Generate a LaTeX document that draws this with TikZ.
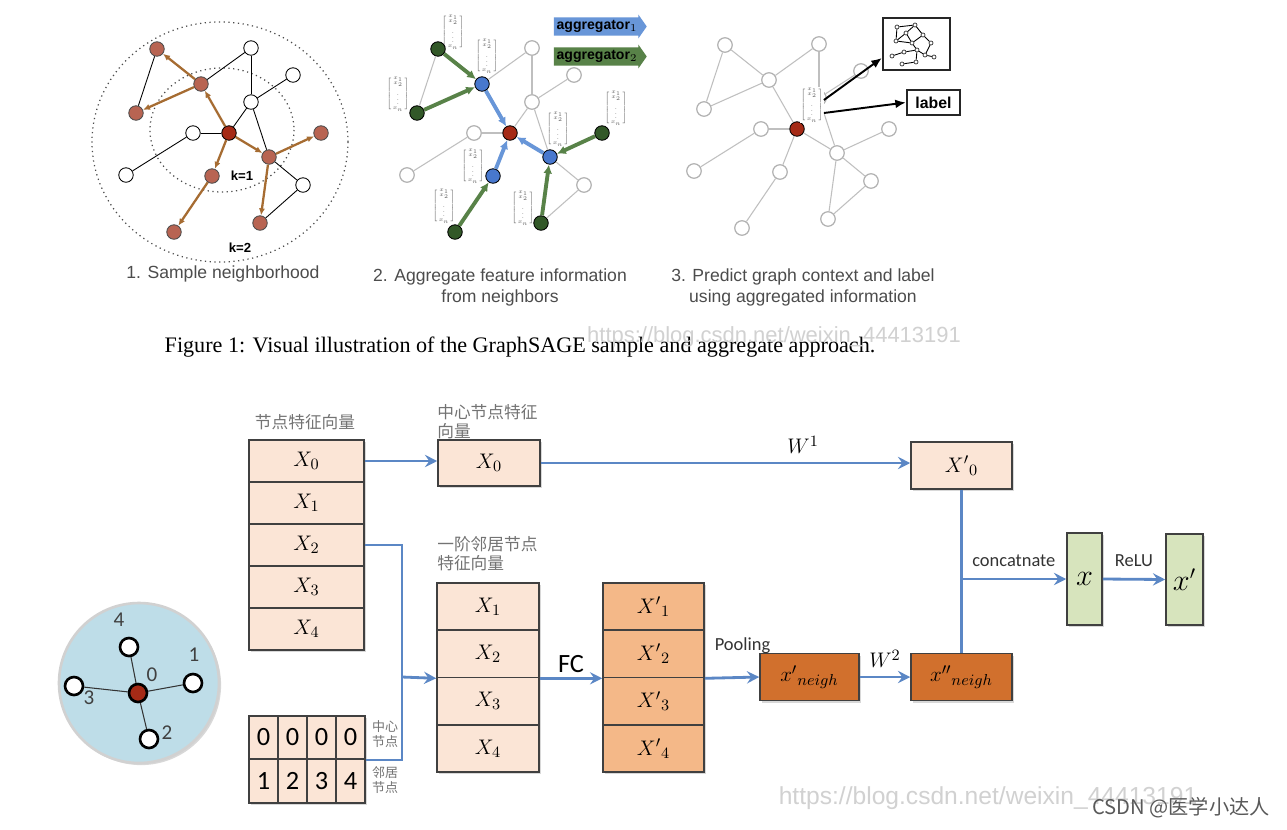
\documentclass[tikz,border=0pt]{standalone}
\usepackage{amsmath}
\usepackage{fontspec}
\setmainfont{Liberation Sans}
\newfontfamily\capfont{Liberation Serif}
\newfontfamily\calfont{Carlito}
\newfontfamily\cjk{Noto Sans CJK SC}
\usetikzlibrary{arrows.meta,shapes.arrows,shadows}

\definecolor{nodebrown}{RGB}{184,100,82}
\definecolor{edgebrown}{RGB}{166,108,50}
\definecolor{centerred}{RGB}{165,42,22}
\definecolor{aggblue}{RGB}{104,150,216}
\definecolor{agggreen}{RGB}{88,130,72}
\definecolor{nodegreen}{RGB}{50,88,40}
\definecolor{nodeblue}{RGB}{72,120,206}
\definecolor{linkblue}{RGB}{91,135,197}
\definecolor{peach}{RGB}{251,229,214}
\definecolor{peachdark}{RGB}{244,184,136}
\definecolor{rust}{RGB}{209,112,45}
\definecolor{sage}{RGB}{215,228,189}
\definecolor{skyblue}{RGB}{190,221,232}

% graph used in the three top panels (frame of panel 1)
\newcommand{\graphpos}{A/157/49, B/251/48, C/201/84, D/293/75, E/136/113, F/251/102, G/193/133, H/229/133, I/321/133, J/269/157, K/126/175, L/212/176, M/303/185, N/174/232, O/260/223}
\newcommand{\plainedges}{A/E, C/B, B/F, F/D, F/H, F/J, G/H, G/K, J/M, M/O}
\newcommand{\sampleedges}{H/C, C/A, C/E, H/J, J/I, J/O, H/L, L/N}
\newcommand{\featvec}{\scalebox{0.66}{$\left[\begin{smallmatrix}x_1\\x_2\\\vdots\\x_n\end{smallmatrix}\right]$}}

\begin{document}
\begin{tikzpicture}[x=0.02cm, y=-0.02cm, >=Latex,
  gnode/.style={circle, draw=black, line width=0.5pt, fill=white, minimum size=0.29cm, inner sep=0pt},
  brownnode/.style={gnode, fill=nodebrown, draw=black!70},
  rednode/.style={gnode, fill=centerred},
  greennode/.style={gnode, fill=nodegreen},
  bluenode/.style={gnode, fill=nodeblue},
  fadenode/.style={gnode, draw=black!30, line width=0.7pt},
  plainedge/.style={draw=black, line width=0.5pt},
  fadeedge/.style={draw=black!25, line width=0.6pt},
  sampleedge/.style={draw=edgebrown, line width=1.3pt, -{Latex[length=4pt,width=3.5pt]}},
  greenedge/.style={draw=agggreen, line width=2.2pt, -{Latex[length=5pt,width=5pt]}},
  blueedge/.style={draw=aggblue, line width=2.2pt, -{Latex[length=5pt,width=5pt]}},
  vecglyph/.style={fill=white, inner sep=0.3pt, text=black!65, font=\tiny},
  panellabel/.style={font=\fontsize{10}{12}\selectfont, text=black!70, align=center},
  klabel/.style={font=\bfseries\fontsize{7.5}{9}\selectfont},
  aggarrow/.style={single arrow, single arrow head extend=1.5pt, single arrow tip angle=110,
    minimum height=1.86cm, inner xsep=1pt, inner ysep=1.6pt, font=\bfseries\fontsize{8}{9}\selectfont},
  tinynode/.style={circle, draw=black!80, fill=white, line width=0.4pt, minimum size=0.08cm, inner sep=0pt},
  boxshadow/.style={drop shadow={shadow xshift=1.2pt, shadow yshift=-1.2pt, opacity=0.3}},
  cell/.style={draw=black!75, line width=0.9pt, inner sep=0pt, font=\fontsize{13}{15}\selectfont, boxshadow},
  featcell/.style={cell, fill=peach, minimum width=2.3cm, minimum height=0.84cm},
  idxcell/.style={cell, fill=peach, minimum width=0.58cm, minimum height=0.87cm, font=\calfont\fontsize{15}{17}\selectfont},
  ringnode/.style={circle, draw=black, line width=1.5pt, fill=white, minimum size=0.36cm, inner sep=0pt},
  ringlabel/.style={font=\calfont\fontsize{12}{14}\selectfont, text=black!75, inner sep=0pt},
  cjklabel/.style={font=\cjk\fontsize{9.5}{10.8}\selectfont, text=black!55, inner sep=0pt},
  cjksmall/.style={font=\cjk\fontsize{7.4}{8.5}\selectfont, text=black!55, inner sep=0pt},
  flowline/.style={draw=linkblue, line width=1.6pt},
  flow/.style={flowline, -{Stealth[length=7pt,width=7pt,inset=2.5pt]}},
  steplabel/.style={font=\calfont\fontsize{10.5}{12}\selectfont, text=black!80},
  watermark/.style={font=\fontsize{12.5}{14}\selectfont, text=black!18, inner sep=0pt}
]
\useasboundingbox[fill=white] (0,0) rectangle (1287,829);

% ---------- 1. Sample neighborhood ----------
\draw[dotted, line width=0.7pt, black!70] (220,142) ellipse [x radius=128, y radius=120];
\draw[dotted, line width=0.7pt, black!70] (222,130) ellipse [x radius=72, y radius=62];
\foreach \n/\px/\py in \graphpos {\coordinate (a-\n) at (\px,\py);}
\foreach \n in {B,D,F,G,K,M} {\node[gnode] (a\n) at (a-\n) {};}
\foreach \n in {A,C,E,I,J,L,N,O} {\node[brownnode] (a\n) at (a-\n) {};}
\node[rednode] (aH) at (a-H) {};
\foreach \u/\v in \plainedges {\draw[plainedge] (a\u) -- (a\v);}
\foreach \u/\v in \sampleedges {\draw[sampleedge] (a\u) -- (a\v);}
\node[klabel] (k1) at (242,176) {k=1};
\node[klabel] (k2) at (240,248) {k=2};
\node[panellabel] (cap1) at (223,274) {1. Sample neighborhood};

% ---------- 2. Aggregate feature information ----------
\begin{scope}[shift={(281,0)}]
  \foreach \n/\px/\py in \graphpos {\coordinate (b-\n) at (\px,\py);}
\end{scope}
\foreach \gx/\gy [count=\i] in {453/32, 487/56, 398/94, 616/108, 558/129, 473/166, 444/206, 523/208}
  {\node[vecglyph] (bv\i) at (\gx,\gy) {\featvec};}
\foreach \n in {B,D,F,G,K,M} {\node[fadenode] (b\n) at (b-\n) {};}
\foreach \n in {A,E,I,N,O} {\node[greennode] (b\n) at (b-\n) {};}
\foreach \n in {C,J,L} {\node[bluenode] (b\n) at (b-\n) {};}
\node[rednode] (bH) at (b-H) {};
\foreach \u/\v in \plainedges {\draw[fadeedge] (b\u) -- (b\v);}
\foreach \u/\v in {A/C, E/C, I/J, O/J, N/L} {\draw[greenedge] (b\u) -- (b\v);}
\foreach \u/\v in {C/H, J/H, L/H} {\draw[blueedge] (b\u) -- (b\v);}
\node[aggarrow, fill=aggblue] (agg1) at (597,26.5) {aggregator$_1$};
\node[aggarrow, fill=agggreen] (agg2) at (597,56.5) {aggregator$_2$};
\node[panellabel] (cap2) at (500,287.5) {2. Aggregate feature information\\from neighbors};

% ---------- 3. Predict graph context and label ----------
\begin{scope}[shift={(568,-4)}]
  \foreach \n/\px/\py in \graphpos {\coordinate (c-\n) at (\px,\py);}
\end{scope}
\foreach \n in {A,B,C,D,E,F,G,I,J,K,L,M,N,O} {\node[fadenode] (c\n) at (c-\n) {};}
\node[rednode] (cH) at (c-H) {};
\foreach \u/\v in \plainedges {\draw[fadeedge] (c\u) -- (c\v);}
\foreach \u/\v in \sampleedges {\draw[fadeedge] (c\u) -- (c\v);}
\node[vecglyph] (cv) at (812,105) {\featvec};
\node[draw=black!85, line width=1.3pt, minimum width=1.34cm, minimum height=1.04cm] (ctx) at (916.5,44) {};
\node[draw=black!85, line width=1.3pt, minimum width=1.06cm, minimum height=0.5cm, inner sep=0pt,
  font=\bfseries\fontsize{9}{10}\selectfont] (lbl) at (933.5,102.5) {label};
\draw[line width=1.1pt, -{Latex[length=6pt,width=5pt]}] ([yshift=0.1cm]cv.east) -- ([yshift=-0.28cm]ctx.west);
\draw[line width=1.1pt, -{Latex[length=6pt,width=5pt]}] ([yshift=-0.16cm]cv.east) -- (lbl.west);
% small graph inside the context box
\foreach \m/\mx/\my in {1/897/27, 2/915/25, 3/906/33, 4/896/41, 5/912/43, 6/923/35, 7/931/43,
  8/917/50, 9/904/52, 10/925/55, 11/916/62, 12/902/64, 13/892/56, 14/934/57}
  {\node[tinynode] (m\m) at (\mx,\my) {};}
\foreach \u/\v in {1/2, 1/4, 4/3, 2/3, 3/5, 5/6, 6/2, 6/7, 5/8, 8/10, 8/9, 9/13, 8/11, 11/12, 10/14, 5/4, 7/10}
  {\draw[line width=0.5pt] (m\u) -- (m\v);}
\node[panellabel] (cap3) at (803,287.5) {3. Predict graph context and label\\using aggregated information};

% ---------- figure caption ----------
\node[font=\capfont\fontsize{12.6}{14}\selectfont] (figcap) at (520,347)
  {Figure 1: Visual illustration of the GraphSAGE sample and aggregate approach.};
\node[watermark] (wm1) at (774,337) {https://blog.csdn.net/weixin\_44413191};

% ---------- lower diagram: small graph ----------
\node[circle, fill=skyblue, draw=black!18, line width=1.5pt, minimum size=3.2cm, inner sep=0pt, boxshadow] (disc) at (139,683) {};
\node[ringnode] (r1) at (193,683) {};
\node[ringnode] (r2) at (149,739) {};
\node[ringnode] (r3) at (74,686) {};
\node[ringnode] (r4) at (129,647) {};
\node[ringnode, fill=centerred] (r0) at (138,693) {};
\foreach \k in {1,...,4} {\draw[line width=0.6pt, black!80] (r0) -- (r\k);}
\node[ringlabel] (l0) at (152,675) {0};
\node[ringlabel] (l1) at (194,655) {1};
\node[ringlabel] (l2) at (167,733) {2};
\node[ringlabel] (l3) at (89,698) {3};
\node[ringlabel] (l4) at (119,620) {4};

% feature matrix and index table
\node[cjklabel] (tf) at (305,422) {节点特征向量};
\foreach \i in {0,...,4} {\node[featcell] (f\i) at (306.5,{461+42*\i}) {$X_\i$};}
\foreach \j [evaluate=\j as \k using int(\j+1)] in {0,...,3} {
  \node[idxcell] (t0\j) at ({263.5+29*\j},737.5) {0};
  \node[idxcell] (t1\j) at ({263.5+29*\j},781) {\k};
}
\node[cjksmall, align=left] (tcen) at (385,734) {中心\\节点};
\node[cjksmall, align=left] (tnei) at (385,780) {邻居\\节点};

% centre and neighbour vectors
\node[cjklabel, anchor=west, align=left] (tc) at (437,421.5) {中心节点特征\\向量};
\node[featcell, minimum width=2.04cm, minimum height=0.92cm] (c0) at (489,463) {$X_0$};
\node[cjklabel, anchor=west, align=left] (tn) at (437,553.5) {一阶邻居节点\\特征向量};
\foreach \i in {1,...,4} {
  \node[featcell, minimum width=2.04cm, minimum height=0.945cm] (n\i) at (488,{559.4+47.25*\i}) {$X_\i$};
  \node[featcell, fill=peachdark, minimum width=2.02cm, minimum height=0.945cm] (p\i) at (653.5,{559.4+47.25*\i}) {${X'}_\i$};
}
\node[cell, fill=rust, minimum width=1.98cm, minimum height=0.94cm] (xn) at (809.5,677) {${x'}_{neigh}$};
\node[cell, fill=rust, minimum width=2.02cm, minimum height=0.94cm] (xnn) at (961.5,677) {${x''}_{neigh}$};
\node[cell, fill=peach, minimum width=2.02cm, minimum height=0.94cm] (x0p) at (961.5,465.5) {${X'}_0$};
\node[cell, fill=sage, minimum width=0.7cm, minimum height=1.84cm, font=\fontsize{16}{18}\selectfont] (xv) at (1084.5,579) {$x$};
\node[cell, fill=sage, minimum width=0.74cm, minimum height=1.82cm, font=\fontsize{16}{18}\selectfont] (xr) at (1184.5,579.5) {$x'$};

% connectors
\coordinate (jn) at (402,677);
\draw[flow] (f0.east) -- (f0.east -| c0.west);
\draw[flowline] (f2.east) -| (jn);
\draw[flowline] (t03.south east) -| (jn);
\draw[flow] (jn) -- (n2.south west);
\draw[flow] (c0.east) -- node[pos=0.71, above=1pt, font=\fontsize{13}{15}\selectfont] {$W^1$} (c0.east -| x0p.west);
\draw[flow] (n2.south east) -- node[above=-1pt, font=\calfont\fontsize{15}{17}\selectfont] {FC} (p2.south west);
\draw[flow] (p2.south east) -- node[pos=0.05, anchor=base west, yshift=16pt, steplabel] {Pooling} (xn.west);
\draw[flow] (xn.east) -- node[above=1pt, font=\fontsize{13}{15}\selectfont] {$W^2$} (xnn.west);
\draw[flowline] (x0p.south) -- (xnn.north);
\draw[flow] (x0p.south |- xv.west) -- node[above=3pt, steplabel] {concatnate} (xv.west);
\draw[flow] (xv.east) -- node[above=3pt, steplabel] {ReLU} (xr.west);

% watermarks
\node[watermark, font=\fontsize{14}{16}\selectfont] (wm2) at (988,798) {https://blog.csdn.net/weixin\_44413191};
\node[font=\cjk\fontsize{11.5}{13}\selectfont, text=black!65, inner sep=0pt] (wm3) at (1181,808) {CSDN @医学小达人};
\end{tikzpicture}
\end{document}
